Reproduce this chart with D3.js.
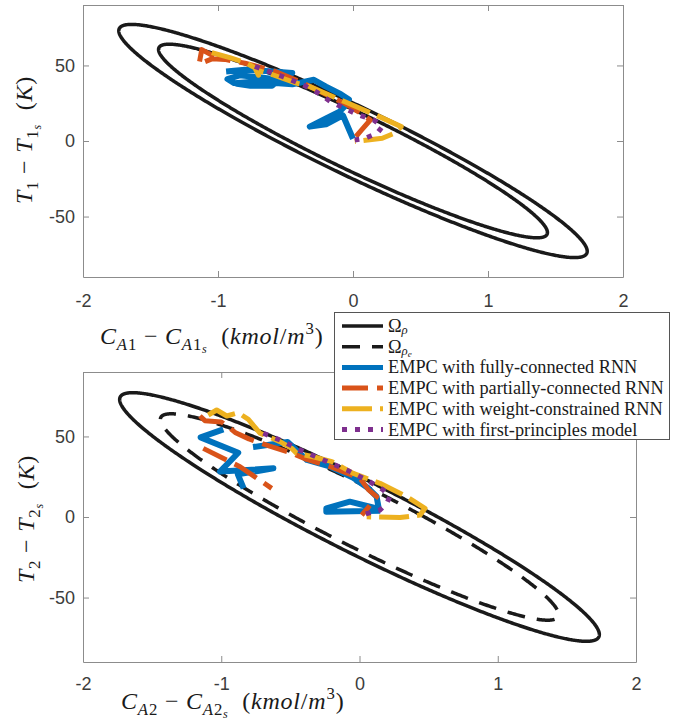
<!DOCTYPE html>
<html>
<head>
<meta charset="utf-8">
<script src="https://cdn.jsdelivr.net/npm/d3@7"></script>
<style>
  html, body { margin: 0; padding: 0; background: #fff; }
  svg { display: block; }
  .tick text { font-family: "Liberation Sans", Arial, sans-serif; font-size: 18px; fill: #3c3c3c; }
  .domain, .tick line { stroke: #8c8c8c; }
  .math { font-family: "Liberation Serif", "Times New Roman", serif; fill: #1a1a1a; white-space: pre; }
</style>
</head>
<body>
<svg id="chart" width="681" height="721"></svg>
<script>
const xTicks = [-2, -1, 0, 1, 2];
const yTicks = [-50, 0, 50];
const xDomain = [-2, 2];
const yDomain = [-90, 90];

// V(x) = x'Px with P = [[p11, p12], [p12, p22]], and the two level sets
const P = [1978, 42.04, 1];
const rhoLevels = [634, 437]; // Omega_rho, Omega_rho_e

// reactor 1 (top) closed-loop state trajectories, [C_A1 - C_A1s, T_1 - T_1s]
const fc1 = [[-0.94,46],[-0.80,47.2],[-0.62,46.2],[-0.45,45],[-0.50,41.5],[-0.70,39.5],[-0.88,38.3],
  [-0.93,41],[-0.84,43.5],[-0.68,42],[-0.55,40.5],[-0.60,36.5],[-0.76,36.5],[-0.86,37.8],[-0.60,38.5],
  [-0.45,37.5],[-0.29,40.5],[-0.20,36],[-0.09,31],[-0.03,27.5],[-0.06,23],[-0.10,19.4],[-0.20,15],
  [-0.32,9.5],[-0.20,11],[-0.075,17],[0.0,1.5]];
const pc1 = [[-1.03,56],[-1.12,60.5],[-1.14,51],[-1.04,54.5],[-0.95,54],[-0.80,51.5],[-0.574,46],
  [-0.37,38.3],[-0.217,31.6],[-0.064,25],[0.038,19.5],[0.128,13.9],[0.064,7.3],[0.0,0.7]];
const wc1 = [[-1.046,58.5],[-0.906,55],[-0.80,52],[-0.727,48.5],[-0.70,43.5],[-0.72,47],[-0.60,44],
  [-0.42,38.3],[-0.32,36],[-0.064,26.1],[0.166,17.3],[0.357,9.5],[0.306,5.1],[0.217,1.8],[0.013,-0.4]];
const fp1 = [[-0.727,49.3],[-0.625,46],[-0.523,42.7],[-0.37,37.2],[-0.268,32.3],[-0.166,26.1],
  [-0.064,21.7],[0.038,17.3],[0.153,13.9],[0.217,9.5],[0.179,5.1],[0.089,1.8],[0.013,0.7]];

// reactor 2 (bottom), [C_A2 - C_A2s, T_2 - T_2s]; null = break in the line
const fc2 = [[-0.985,54.4],[-1.149,49.4],[-0.877,39.9],[-1.009,28.2],[-0.623,30.2],[-0.88,26.5],[-0.838,17.8],
  null,[-0.77,43.4],[-0.52,46.5],[-0.45,41],[-0.38,35.4],[-0.21,31.2],[-0.045,24.4],[0.064,17.8],
  [0.124,12.6],[0.14,5],[-0.07,9.5],[-0.24,5.4],[-0.24,3.3],[0.15,3.9]];
const pc2 = [[-1.154,62.7],[-1.118,59.8],[-1.0,59],[-0.95,56],[-0.90,52.5],[-0.80,48.5],[-0.65,44],
  [-0.50,40],[-0.382,35.8],[-0.20,31],[0.004,24],[0.064,17],[0.124,12.6],[0.064,6],[0.016,1.2],
  null,[-1.13,42.6],[-0.864,31.2],[-0.635,17.8]];
const wc2 = [[-1.094,63.3],[-1.033,66.4],[-0.96,62.7],[-0.877,64.7],[-0.804,60.6],[-0.72,52],[-0.575,46.8],
  [-0.49,42.6],[-0.454,39.5],[-0.334,37.4],[-0.20,34.4],[-0.045,27.1],[0.148,20.9],[0.341,12.6],
  [0.474,5.4],[0.438,1.2],[0.293,-0.3],[0.052,0.1]];
const fp2 = [[-0.696,52],[-0.575,47.8],[-0.43,41.6],[-0.262,35.4],[-0.093,29.2],[0.052,23],[0.172,16.8],
  [0.22,12.6],[0.197,8.5],[0.148,4.3],[0.016,1.2]];

const seriesNames = [
  'EMPC with fully-connected RNN',
  'EMPC with partially-connected RNN',
  'EMPC with weight-constrained RNN',
  'EMPC with first-principles model'
];
const seriesStyles = [
  { color: '#0072BD', width: 6, dash: null },
  { color: '#D95319', width: 5, dash: '26,9' },
  { color: '#EDB120', width: 5, dash: '30,8' },
  { color: '#7E2F8E', width: 5, dash: '5,8' }
];
const setStyles = [
  { color: '#1a1a1a', width: 3.5, dash: null },
  { color: '#1a1a1a', width: 3.5, dash: '18,12' }
];

function kinds(subShift, ssubShift) {
  return {
    i: { italic: true, scale: 1, shift: 0 },
    r: { italic: false, scale: 1, shift: 0 },
    sub: { italic: false, scale: 0.7, shift: subShift },
    subi: { italic: true, scale: 0.7, shift: subShift },
    ssub: { italic: true, scale: 0.5, shift: ssubShift },
    sup: { italic: false, scale: 0.7, shift: -0.42 }
  };
}
const labelKinds = kinds(0.26, 0.38);
const legendKinds = kinds(0.12, 0.22);

const svg = d3.select('#chart');

function mathText(g, parts, size, kindSet) {
  const text = g.append('text').attr('class', 'math').attr('font-size', size);
  let cur = 0;
  parts.forEach(([str, kind]) => {
    const k = kindSet[kind];
    text.append('tspan')
      .attr('font-style', k.italic ? 'italic' : 'normal')
      .attr('font-size', size * k.scale)
      .attr('dy', (k.shift - cur) * size)
      .text(str);
    cur = k.shift;
  });
  return text;
}

function ellipsePoints(rho) {
  const [a, b, c] = P;
  const m = (a + c) / 2, d = Math.sqrt(((a - c) / 2) ** 2 + b * b);
  const l1 = m + d, l2 = m - d;
  const n = Math.hypot(b, l1 - a);
  const v1 = [b / n, (l1 - a) / n], v2 = [-v1[1], v1[0]];
  const r1 = Math.sqrt(rho / l1), r2 = Math.sqrt(rho / l2);
  return d3.range(0, 721).map(k => {
    const t = k * Math.PI / 360;
    return [r1 * Math.cos(t) * v1[0] + r2 * Math.sin(t) * v2[0],
            r1 * Math.cos(t) * v1[1] + r2 * Math.sin(t) * v2[1]];
  });
}

function styled(sel, s) {
  return sel.attr('fill', 'none')
    .attr('stroke', s.color)
    .attr('stroke-width', s.width)
    .attr('stroke-dasharray', s.dash)
    .attr('stroke-linejoin', 'round');
}

const xlab = n => [['C','i'],['A','subi'],[n,'sub'],[' − ','r'],['C','i'],['A','subi'],[n,'sub'],['s','ssub'],['  (','r'],['kmol','i'],['/','r'],['m','i'],['3','sup'],[')','r']];
const ylab = n => [['T','i'],[n,'sub'],[' − ','r'],['T','i'],[n,'sub'],['s','ssub'],['  (','r'],['K','i'],[')','r']];

const panels = [
  {
    box: [83, 623, 5, 277], pad: 17,
    innerStyle: setStyles[0],
    series: [fc1, pc1, wc1, fp1],
    xlabel: { x: 100, y: 344, parts: xlab('1') },
    ylabel: { x: 32, y: 140, parts: ylab('1') }
  },
  {
    box: [83, 636, 372, 662], pad: 15,
    innerStyle: setStyles[1],
    series: [fc2, pc2, wc2, fp2],
    xlabel: { x: 121, y: 709, parts: xlab('2') },
    ylabel: { x: 34, y: 519, parts: ylab('2') }
  }
];

panels.forEach(p => {
  const [x0, x1, y0, y1] = p.box;
  const x = d3.scaleLinear().domain(xDomain).range([x0, x1]);
  const y = d3.scaleLinear().domain(yDomain).range([y1, y0]);
  const line = d3.line().defined(d => d).x(d => x(d[0])).y(d => y(d[1]));
  const g = svg.append('g');

  g.append('path').datum(ellipsePoints(rhoLevels[0])).attr('d', line).call(styled, setStyles[0]);
  g.append('path').datum(ellipsePoints(rhoLevels[1])).attr('d', line).call(styled, p.innerStyle);

  p.series.forEach((s, i) => {
    g.append('path').datum(s).attr('d', line).call(styled, seriesStyles[i]);
  });

  g.append('g').attr('transform', `translate(0,${y1})`)
    .call(d3.axisBottom(x).tickValues(xTicks).tickSize(-6).tickSizeOuter(0).tickPadding(p.pad).tickFormat(d => String(d)));
  g.append('g').attr('transform', `translate(0,${y0})`)
    .call(d3.axisTop(x).tickValues(xTicks).tickSize(-6).tickSizeOuter(0).tickFormat(''));
  g.append('g').attr('transform', `translate(${x0},0)`)
    .call(d3.axisLeft(y).tickValues(yTicks).tickSize(-6).tickSizeOuter(0).tickPadding(8).tickFormat(d => String(d)));
  g.append('g').attr('transform', `translate(${x1},0)`)
    .call(d3.axisRight(y).tickValues(yTicks).tickSize(-6).tickSizeOuter(0).tickFormat(''));
  g.selectAll('.tick text').attr('font-family', null).attr('font-size', null).attr('fill', null);

  mathText(g, p.xlabel.parts, 24, labelKinds).attr('x', p.xlabel.x).attr('y', p.xlabel.y)
    .attr('letter-spacing', 0.8);
  mathText(g, p.ylabel.parts, 24, labelKinds)
    .attr('letter-spacing', 0.8)
    .attr('text-anchor', 'middle')
    .attr('transform', `translate(${p.ylabel.x},${p.ylabel.y}) rotate(-90)`);
});

// legend (sits on the lower panel)
const legendItems = [
  { style: setStyles[0], parts: [['Ω','r'],['ρ','subi']] },
  { style: setStyles[1], parts: [['Ω','r'],['ρ','subi'],['e','ssub']] }
].concat(seriesNames.map((n, i) => ({ style: seriesStyles[i], parts: [[n, 'r']] })));

const lg = svg.append('g');
lg.append('rect').attr('x', 334.5).attr('y', 312.5).attr('width', 335).attr('height', 127)
  .attr('fill', '#fff').attr('stroke', '#555');
legendItems.forEach((it, i) => {
  const ry = 326 + i * 20.7;
  const s = Object.assign({}, it.style, { width: Math.min(it.style.width, 5) });
  lg.append('path').attr('d', `M342,${ry}H383`).call(styled, s);
  mathText(lg, it.parts, 18.3, legendKinds).attr('x', 388).attr('y', ry + 6);
});
</script>
</body>
</html>
